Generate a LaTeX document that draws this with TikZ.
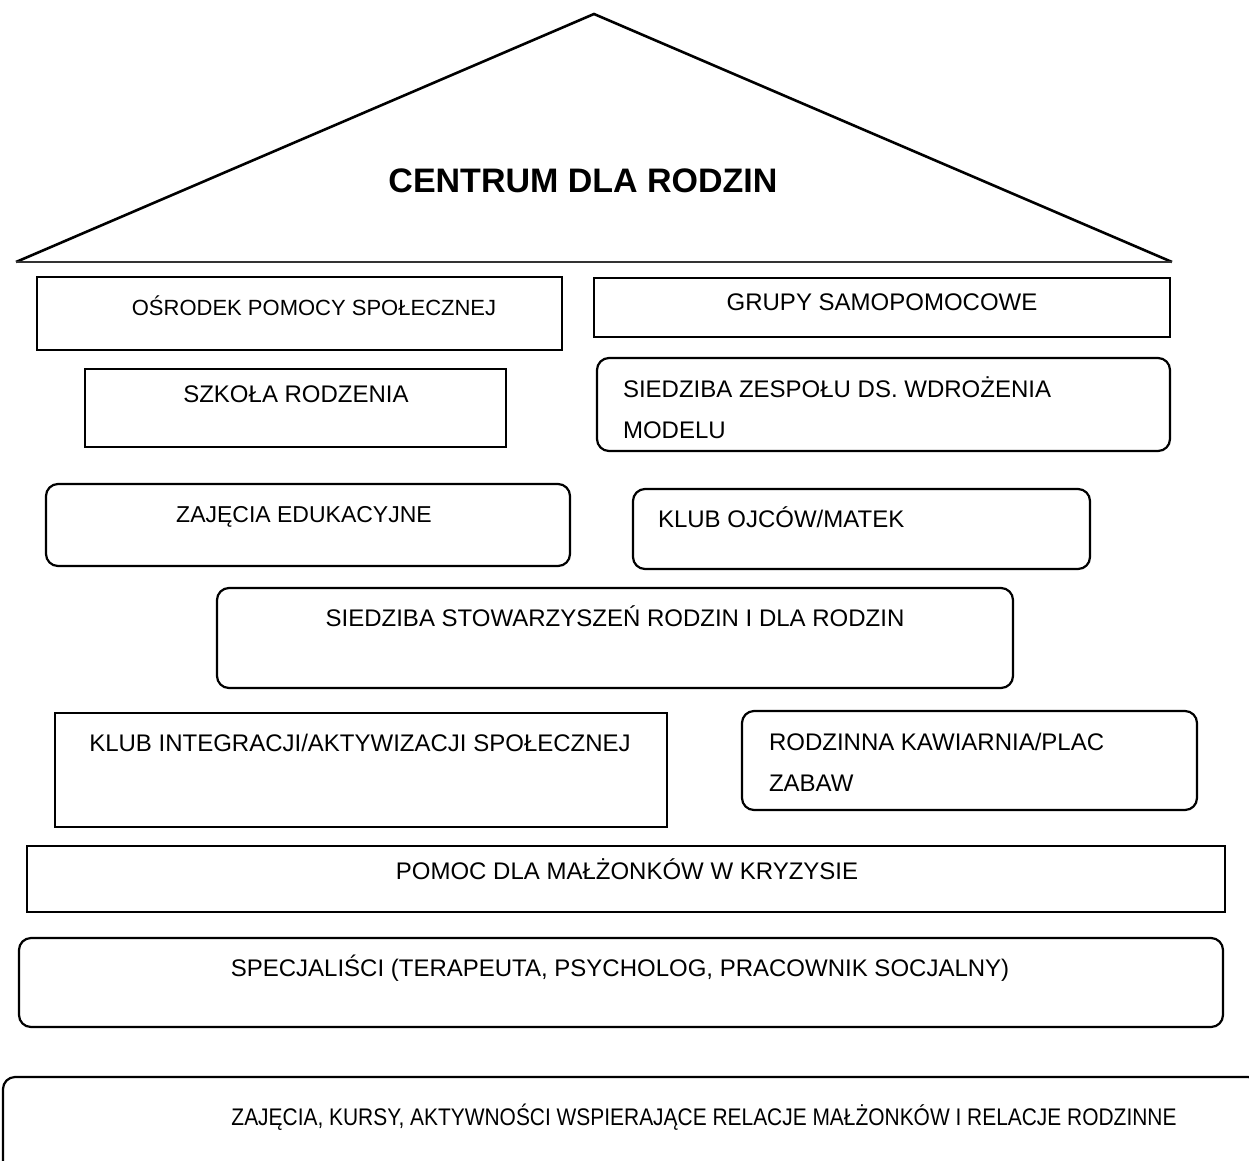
\documentclass[tikz,border=0pt]{standalone}
\usepackage{graphicx}
\usepackage{fontspec}
\setmainfont{Liberation Sans}
\begin{document}
\begin{tikzpicture}[x=1pt,y=-1pt,
  sqbox/.style={draw=black,line width=2.2pt,inner sep=0pt,outer sep=0pt},
  rdbox/.style={draw=black,line width=2.2pt,rounded corners=12pt,inner sep=0pt,outer sep=0pt},
  lbl/.style={inner sep=0pt,outer sep=0pt,font=\fontsize{24}{28}\selectfont,anchor=base},
  lbll/.style={lbl,anchor=base west}]
\useasboundingbox (0,0) rectangle (1249,1160);
\clip (0,0) rectangle (1249,1160);
% roof
\coordinate (rl) at (16,262);
\coordinate (rt) at (594,14);
\coordinate (rr) at (1172,262);
\draw[line width=2.6pt,line join=miter] (rl) -- (rt) -- (rr);
\draw[line width=1.6pt,black!80] (rl) -- (rr);
\node[inner sep=0pt,font=\fontsize{34}{40}\selectfont\bfseries,anchor=base] (title) at (583,192) {CENTRUM DLA RODZIN};
% boxes
\node[sqbox,minimum width=525,minimum height=73] (b1) at (299.5,313.5) {};
\node[lbl,font=\fontsize{22}{26}\selectfont] (t1) at (314,315) {OŚRODEK POMOCY SPOŁECZNEJ};
\node[sqbox,minimum width=576,minimum height=59] (b2) at (882,307.5) {};
\node[lbl] (t2) at (882,310.5) {GRUPY SAMOPOMOCOWE};
\node[sqbox,minimum width=421,minimum height=78] (b3) at (295.5,408) {};
\node[lbl] (t3) at (296,402.5) {SZKOŁA RODZENIA};
\node[rdbox,minimum width=573,minimum height=93] (b4) at (883.5,404.5) {};
\node[lbll] (t4a) at (623,397.5) {SIEDZIBA ZESPOŁU DS. WDROŻENIA};
\node[lbll] (t4b) at (623,438.5) {MODELU};
\node[rdbox,minimum width=524,minimum height=82] (b5) at (308,525) {};
\node[lbl,font=\fontsize{23}{27}\selectfont] (t5) at (304,522) {ZAJĘCIA EDUKACYJNE};
\node[rdbox,minimum width=457,minimum height=80] (b6) at (861.5,529) {};
\node[lbll] (t6) at (658,527.5) {KLUB OJCÓW/MATEK};
\node[rdbox,minimum width=796,minimum height=100] (b7) at (615,638) {};
\node[lbl] (t7) at (615,626.5) {SIEDZIBA STOWARZYSZEŃ RODZIN I DLA RODZIN};
\node[sqbox,minimum width=612,minimum height=114] (b8) at (361,770) {};
\node[lbl] (t8) at (360,751.5) {KLUB INTEGRACJI/AKTYWIZACJI SPOŁECZNEJ};
\node[rdbox,minimum width=455,minimum height=99] (b9) at (969.5,760.5) {};
\node[lbll] (t9a) at (769,750.5) {RODZINNA KAWIARNIA/PLAC};
\node[lbll] (t9b) at (769,791.5) {ZABAW};
\node[sqbox,minimum width=1198,minimum height=66] (b10) at (626,879) {};
\node[lbl] (t10) at (627,879.5) {POMOC DLA MAŁŻONKÓW W KRYZYSIE};
\node[rdbox,minimum width=1204,minimum height=89] (b11) at (621,982.5) {};
\node[lbl] (t11) at (620,976.5) {SPECJALIŚCI (TERAPEUTA, PSYCHOLOG, PRACOWNIK SOCJALNY)};
\node[rdbox,minimum width=1257,minimum height=120] (b12) at (631.5,1137) {};
\node[lbl] (t12) at (704,1125.5) {\scalebox{0.872}[1]{ZAJĘCIA, KURSY, AKTYWNOŚCI WSPIERAJĄCE RELACJE MAŁŻONKÓW I RELACJE RODZINNE}};
\end{tikzpicture}
\end{document}
